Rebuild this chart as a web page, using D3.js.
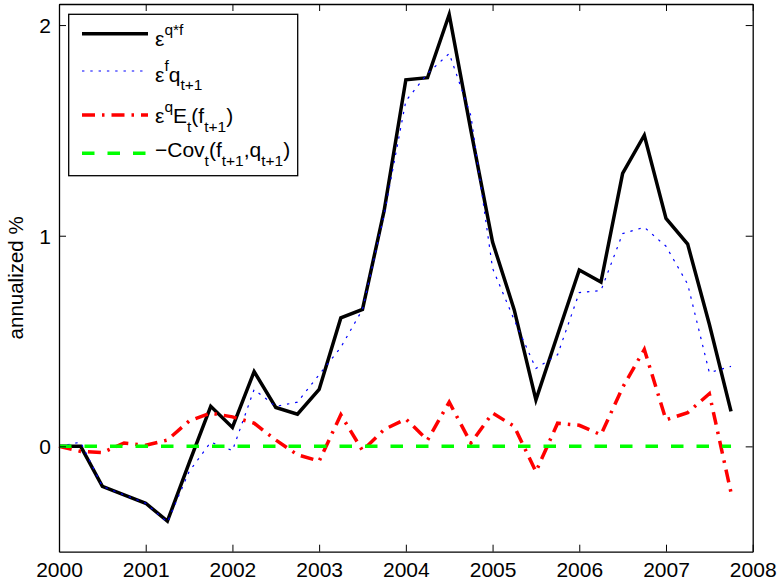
<!DOCTYPE html>
<html>
<head>
<meta charset="utf-8">
<script src="https://cdn.jsdelivr.net/npm/d3@7"></script>
<style>
  body { margin: 0; background: #fff; }
  svg { display: block; font-family: "Liberation Sans", Arial, sans-serif; }
</style>
</head>
<body>
<svg></svg>
<script>
// quarterly dates 2000Q1 .. 2007Q4
let dates = [2000, 2000.25, 2000.5, 2000.75, 2001, 2001.25, 2001.5, 2001.75,
  2002, 2002.25, 2002.5, 2002.75, 2003, 2003.25, 2003.5, 2003.75,
  2004, 2004.25, 2004.5, 2004.75, 2005, 2005.25, 2005.5, 2005.75,
  2006, 2006.25, 2006.5, 2006.75, 2007, 2007.25, 2007.5, 2007.75];

// eps^{q*f}
let totalEps = [0, 0, -0.19, -0.23, -0.27, -0.355, -0.08, 0.19,
  0.09, 0.355, 0.185, 0.153, 0.27, 0.61, 0.65, 1.12,
  1.74, 1.75, 2.05, 1.5, 0.97, 0.648, 0.221, 0.53,
  0.837, 0.78, 1.296, 1.477, 1.082, 0.96, 0.58, 0.166];

// eps^f q_{t+1}
let fPart = [0, 0.02, -0.19, -0.23, -0.27, -0.36, -0.12, 0.02,
  -0.02, 0.27, 0.19, 0.21, 0.34, 0.47, 0.65, 1.1,
  1.64, 1.77, 1.865, 1.57, 0.845, 0.6, 0.37, 0.435,
  0.73, 0.74, 1.01, 1.04, 0.95, 0.77, 0.35, 0.38];

// eps^q E_t(f_{t+1})
let qPart = [0, -0.024, -0.03, 0.016, 0.005, 0.03, 0.12, 0.158,
  0.14, 0.11, 0.03, -0.04, -0.07, 0.15, -0.02, 0.08,
  0.13, 0.03, 0.21, 0.016, 0.158, 0.095, -0.12, 0.11,
  0.1, 0.055, 0.28, 0.46, 0.126, 0.16, 0.25, -0.22];

// -Cov_t(f_{t+1}, q_{t+1})
let covPart = dates.map(() => 0);

let xTicks = [2000, 2001, 2002, 2003, 2004, 2005, 2006, 2007, 2008];
let yTicks = [0, 1, 2];

let svg = d3.select("svg").attr("width", 777).attr("height", 582);

let x = d3.scaleLinear().domain([2000, 2008]).range([59, 752.7]);
let y = d3.scaleLinear().domain([-0.5, 2.1]).range([551.7, 4]);

let series = [
  { vals: totalEps, color: "#000", w: 3.5, dash: null },
  { vals: fPart, color: "#0000ff", w: 1.2, dash: "2.4,5.9" },
  { vals: qPart, color: "#ff0000", w: 3.5, dash: "13,7,2.5,7" },
  { vals: covPart, color: "#00ff00", w: 3.5, dash: "12.5,13" }
];

let line = d3.line().x((d) => x(d[0])).y((d) => y(d[1]));

svg.append("g")
  .selectAll("path")
  .data(series)
  .enter()
  .append("path")
  .attr("d", (s) => line(dates.map((t, i) => [t, s.vals[i]])))
  .attr("fill", "none")
  .attr("stroke", (s) => s.color)
  .attr("stroke-width", (s) => s.w)
  .attr("stroke-dasharray", (s) => s.dash)
  .attr("stroke-linejoin", "miter");

// axes box with inward ticks, matlab style
let tl = 7;
let axBottom = d3.axisBottom(x).tickValues(xTicks).tickFormat(d3.format("d")).tickSizeInner(-tl).tickSizeOuter(0).tickPadding(10);
let axTop = d3.axisTop(x).tickValues(xTicks).tickFormat("").tickSizeInner(-tl).tickSizeOuter(0);
let axLeft = d3.axisLeft(y).tickValues(yTicks).tickFormat(d3.format("d")).tickSizeInner(-tl).tickSizeOuter(0).tickPadding(8);
let axRight = d3.axisRight(y).tickValues(yTicks).tickFormat("").tickSizeInner(-tl).tickSizeOuter(0);

let gb = svg.append("g").attr("transform", `translate(0,${y.range()[0]})`).call(axBottom);
let gt = svg.append("g").attr("transform", `translate(0,${y.range()[1]})`).call(axTop);
let gl = svg.append("g").attr("transform", `translate(${x.range()[0]},0)`).call(axLeft);
let gr = svg.append("g").attr("transform", `translate(${x.range()[1]},0)`).call(axRight);

[gb, gt, gl, gr].forEach((g) => {
  g.select(".domain").attr("stroke", "#000").attr("stroke-width", 1.3);
  g.selectAll(".tick line").attr("stroke", "#000").attr("stroke-width", 1);
  g.selectAll("text").attr("fill", "#000").attr("font-size", 21)
    .attr("font-family", "Liberation Sans, Arial, sans-serif");
});
gb.selectAll("text").attr("dy", "0.71em");
gl.selectAll("text").attr("dy", "0.36em");

svg.append("text")
  .attr("transform", `translate(23,${(y.range()[0] + y.range()[1]) / 2}) rotate(-90)`)
  .attr("text-anchor", "middle")
  .attr("font-size", 20.5)
  .text("annualized %");

// legend
let legend = svg.append("g");
legend.append("rect")
  .attr("x", 68.7).attr("y", 14.3)
  .attr("width", 229).attr("height", 161.4)
  .attr("fill", "#fff").attr("stroke", "#000").attr("stroke-width", 1.3);

let legendRows = [
  { lineY: 33.7, base: 46, parts: [["ε", 0], ["q*f", -1]] },
  { lineY: 71, base: 81.5, parts: [["ε", 0], ["f", -1], ["q", 0], ["t+1", 1]] },
  { lineY: 115, base: 123, parts: [["ε", 0], ["q", -1], ["E", 0], ["t", 1], ["(f", 0], ["t+1", 1], [")", 0]] },
  { lineY: 153.3, base: 157, parts: [["−Cov", 0], ["t", 1], ["(f", 0], ["t+1", 1], [",q", 0], ["t+1", 1], [")", 0]] }
];

legendRows.forEach((row, i) => {
  let s = series[i];
  legend.append("line")
    .attr("x1", 82).attr("x2", 148)
    .attr("y1", row.lineY).attr("y2", row.lineY)
    .attr("stroke", s.color).attr("stroke-width", s.w)
    .attr("stroke-dasharray", s.dash);
  let t = legend.append("text").attr("x", 155).attr("y", row.base).attr("font-size", 21);
  let cur = 0;
  row.parts.forEach(([str, lvl]) => {
    let target = lvl === -1 ? -11 : lvl === 1 ? 8.5 : 0;
    t.append("tspan")
      .attr("dy", target - cur)
      .attr("font-size", lvl === 0 ? 21 : 15.5)
      .text(str);
    cur = target;
  });
});
</script>
</body>
</html>
